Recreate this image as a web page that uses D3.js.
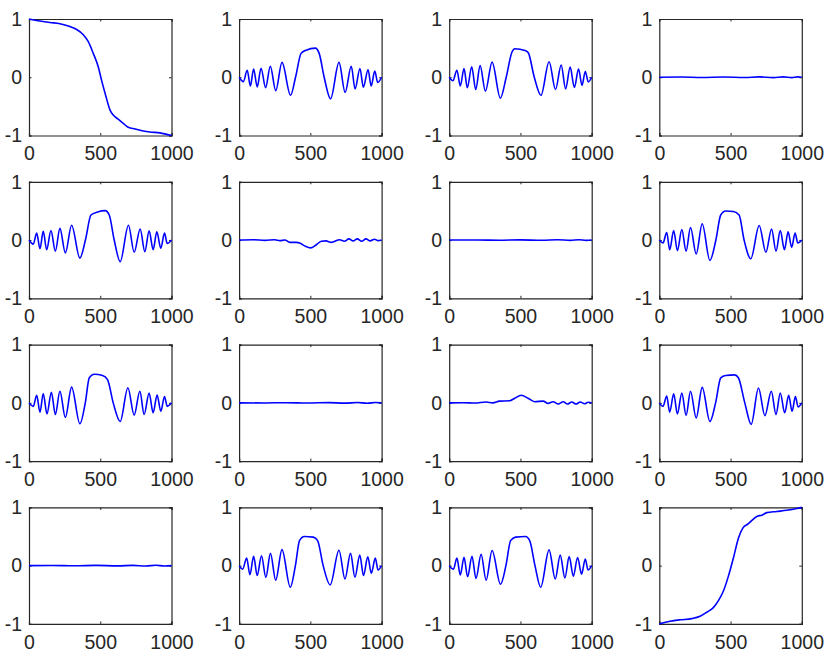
<!DOCTYPE html>
<html lang="en">
<head>
<meta charset="UTF-8">
<title>Subplots</title>
<script src="https://d3js.org/d3.v7.min.js"></script>
<style>
  body { margin:0; background:#fff; }
  text { font-family: "Liberation Sans", Arial, sans-serif; fill:#262626; }
</style>
</head>
<body>
<svg id="fig" width="830" height="666"></svg>
<script>
// tick values
var xTicks = [0, 500, 1000];
var yTicks = [-1, 0, 1];

// curves, [x, y] pairs
var p11 = [[0,1],[77,0.965],[147,0.94],[217,0.92],[287,0.87],[334,0.82],[381,0.73],[416,0.61],[451,0.41],[486,0.18],[509,-0.05],[540,-0.33],[568,-0.56],[591,-0.65],[626,-0.72],[661,-0.79],[696,-0.86],[731,-0.88],[778,-0.91],[848,-0.94],[918,-0.955],[1000,-1]];
var p12 = [[0,0],[30,-0.075],[57,0.12],[79,-0.15],[102,0.14],[127,-0.165],[154,0.155],[186,-0.18],[219,0.19],[257,-0.23],[301,0.255],[361,-0.31],[396,0],[435,0.41],[470,0.465],[535,0.5],[562,0.41],[597,0],[642,-0.37],[701,0.255],[744,-0.26],[787,0.19],[814,-0.2],[848,0.15],[872,-0.17],[905,0.13],[927,-0.15],[952,0.105],[973,-0.09],[1000,0]];
var p13 = [[0,0],[26,-0.06],[54,0.12],[78,-0.15],[104,0.15],[127,-0.18],[158,0.18],[186,-0.21],[217,0.2],[254,-0.24],[301,0.26],[359,-0.36],[400,0],[440,0.43],[461,0.49],[532,0.46],[555,0.42],[597,0],[644,-0.31],[701,0.265],[746,-0.21],[786,0.21],[817,-0.2],[849,0.175],[878,-0.175],[908,0.14],[932,-0.14],[955,0.1],[976,-0.08],[1000,0]];
var p14 = [[0,0],[150,0.003],[300,-0.004],[450,0.004],[600,-0.005],[700,0.006],[800,-0.006],[870,0.007],[930,-0.007],[970,0.006],[1000,0]];
var p21 = [[0,0],[30,-0.07],[54,0.12],[77,-0.15],[100,0.15],[124,-0.165],[154,0.165],[185,-0.19],[217,0.2],[255,-0.22],[299,0.255],[357,-0.31],[396,0],[435,0.43],[481,0.48],[535,0.505],[563,0.43],[598,0],[640,-0.37],[698,0.255],[738,-0.21],[780,0.19],[813,-0.2],[843,0.16],[871,-0.165],[897,0.14],[925,-0.14],[951,0.12],[970,-0.06],[1000,0]];
var p22 = [[0,0],[100,0.005],[180,-0.005],[250,0.005],[286,-0.01],[321,0],[356,-0.04],[402,-0.04],[425,-0.05],[460,-0.1],[502,-0.135],[542,-0.08],[577,-0.02],[610,-0.015],[647,-0.04],[705,0.005],[740,-0.02],[770,0.02],[800,-0.015],[830,0.02],[860,-0.02],[890,0.02],[920,-0.015],[950,0.015],[975,-0.01],[1000,0]];
var p23 = [[0,0],[200,0.002],[350,-0.003],[500,0.003],[650,-0.004],[760,0.005],[850,-0.005],[910,0.006],[960,-0.005],[1000,0]];
var p24 = [[0,0],[26,-0.05],[52,0.13],[73,-0.165],[101,0.165],[127,-0.18],[158,0.18],[188,-0.19],[219,0.215],[259,-0.24],[301,0.28],[355,-0.35],[397,0],[431,0.43],[466,0.5],[520,0.49],[560,0.43],[595,0],[642,-0.32],[701,0.25],[748,-0.21],[788,0.19],[819,-0.19],[849,0.165],[878,-0.165],[904,0.14],[929,-0.125],[953,0.12],[972,-0.05],[1000,0]];
var p31 = [[0,0],[30,-0.06],[54,0.13],[77,-0.16],[100,0.16],[126,-0.19],[157,0.18],[185,-0.2],[217,0.2],[255,-0.25],[299,0.27],[357,-0.36],[395,0],[423,0.43],[458,0.49],[516,0.47],[551,0.4],[591,0],[640,-0.32],[694,0.26],[738,-0.21],[778,0.2],[808,-0.2],[843,0.17],[871,-0.17],[899,0.135],[925,-0.145],[951,0.11],[970,-0.06],[1000,0]];
var p32 = [[0,0],[180,-0.002],[330,0.003],[480,-0.003],[630,0.004],[740,-0.005],[830,0.005],[900,-0.006],[955,0.005],[1000,0]];
var p33 = [[0,0],[100,0.003],[180,-0.003],[259,0.015],[306,0],[353,0.03],[424,0.035],[460,0.08],[506,0.13],[553,0.08],[600,0.02],[659,0.03],[694,-0.01],[729,0.02],[765,-0.02],[800,0.02],[830,-0.02],[860,0.015],[890,-0.02],[920,0.015],[950,-0.015],[975,0.01],[1000,0]];
var p34 = [[0,0],[26,-0.06],[52,0.115],[73,-0.16],[101,0.155],[127,-0.19],[158,0.17],[188,-0.215],[219,0.2],[259,-0.26],[301,0.265],[355,-0.32],[395,0],[431,0.43],[466,0.47],[529,0.48],[555,0.43],[600,0],[645,-0.37],[696,0.255],[741,-0.22],[786,0.2],[819,-0.2],[849,0.17],[880,-0.17],[908,0.13],[932,-0.145],[955,0.11],[974,-0.07],[1000,0]];
var p41 = [[0,0],[160,0.003],[320,-0.003],[470,0.004],[620,-0.004],[730,0.005],[820,-0.006],[890,0.006],[950,-0.006],[1000,0]];
var p42 = [[0,0],[25,-0.06],[53,0.13],[76,-0.155],[102,0.16],[127,-0.17],[157,0.17],[188,-0.2],[220,0.21],[257,-0.25],[301,0.275],[359,-0.37],[395,0],[424,0.43],[458,0.5],[521,0.49],[551,0.43],[590,0],[639,-0.33],[701,0.265],[743,-0.23],[782,0.21],[813,-0.2],[847,0.18],[873,-0.17],[903,0.15],[928,-0.13],[956,0.13],[975,-0.075],[1000,0]];
var p43 = [[0,0],[30,-0.06],[54,0.13],[78,-0.16],[104,0.145],[129,-0.19],[160,0.16],[188,-0.22],[224,0.195],[259,-0.25],[301,0.26],[360,-0.32],[398,0],[431,0.43],[466,0.49],[536,0.5],[565,0.43],[602,0],[642,-0.37],[701,0.27],[744,-0.23],[779,0.18],[812,-0.21],[842,0.155],[871,-0.18],[901,0.14],[929,-0.145],[955,0.115],[974,-0.075],[1000,0]];
var p44 = [[0,-1],[75,-0.955],[145,-0.93],[227,-0.91],[286,-0.87],[333,-0.8],[379,-0.72],[415,-0.6],[450,-0.435],[485,-0.18],[520,0.13],[555,0.47],[585,0.64],[625,0.72],[660,0.8],[688,0.85],[719,0.865],[754,0.91],[824,0.93],[895,0.95],[965,0.98],[1000,1]];

var panels = [p11,p12,p13,p14, p21,p22,p23,p24, p31,p32,p33,p34, p41,p42,p43,p44];

function main() {
  var svg = d3.select("#fig");
  var left0 = 29, dx = 210.1, top0 = 19, dy = 162.8;
  var w = 142.5, h = 116.5, tick = 2.5;
  var fmt = function(d){ return String(d); };   // plain hyphen, no thousands comma

  var x = d3.scaleLinear().domain([0, 1000]).range([0, w]);
  var y = d3.scaleLinear().domain([-1, 1]).range([h, 0]);
  var line = d3.line()
    .x(function(d){ return x(d[0]); })
    .y(function(d){ return y(d[1]); })
    .curve(d3.curveMonotoneX);

  panels.forEach(function(data, i) {
    var r = Math.floor(i / 4), c = i % 4;
    var g = svg.append("g")
      .attr("transform", "translate(" + (left0 + c*dx) + "," + (top0 + r*dy) + ")");

    // inward ticks on all four sides
    g.append("g").attr("transform", "translate(0," + h + ")")
      .call(d3.axisBottom(x).tickValues(xTicks).tickSize(-tick).tickPadding(11).tickFormat(fmt))
      .call(function(a){ a.selectAll("text").attr("dy", "0.71em"); });
    g.append("g")
      .call(d3.axisTop(x).tickValues(xTicks).tickSize(-tick).tickFormat(""));
    g.append("g")
      .call(d3.axisLeft(y).tickValues(yTicks).tickSize(-tick).tickPadding(7).tickFormat(fmt));
    g.append("g").attr("transform", "translate(" + w + ",0)")
      .call(d3.axisRight(y).tickValues(yTicks).tickSize(-tick).tickFormat(""));

    g.selectAll(".domain").attr("stroke", "#262626").attr("stroke-width", 1.2);
    g.selectAll(".tick line").attr("stroke", "#262626");
    g.selectAll("g").attr("font-size", null).attr("font-family", null);
    g.selectAll(".tick text").attr("fill", "#262626")
      .style("font-family", "'Liberation Sans', Arial, sans-serif")
      .style("font-size", "19.5px");

    g.append("path")
      .datum(data)
      .attr("fill", "none")
      .attr("stroke", "#0000ff")
      .attr("stroke-width", 1.6)
      .attr("d", line);
  });
}
main();
</script>
</body>
</html>
